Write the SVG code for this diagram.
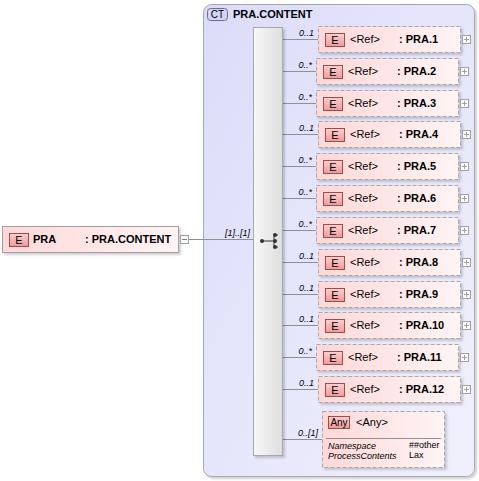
<svg xmlns="http://www.w3.org/2000/svg" width="479" height="481" viewBox="0 0 479 481">
<defs>
<linearGradient id="ctg" x1="0" y1="0" x2="1" y2="1"><stop offset="0" stop-color="#dcdcfa"/><stop offset="1" stop-color="#f0f0fc"/></linearGradient>
<linearGradient id="elg" x1="0" y1="0" x2="1" y2="0"><stop offset="0" stop-color="#ffd8d8"/><stop offset="1" stop-color="#fff4f4"/></linearGradient>
<linearGradient id="badg" x1="0" y1="0" x2="0" y2="1"><stop offset="0" stop-color="#fbd0d0"/><stop offset="1" stop-color="#ee9a9a"/></linearGradient>
<linearGradient id="seqg" x1="0" y1="0" x2="1" y2="0"><stop offset="0" stop-color="#f8f8f8"/><stop offset="1" stop-color="#dedede"/></linearGradient>
<filter id="sh" x="-10%" y="-10%" width="130%" height="140%"><feDropShadow dx="2" dy="2" stdDeviation="1.2" flood-color="#000" flood-opacity="0.18"/></filter>
</defs>
<style>
text{font-family:"Liberation Sans",Arial,sans-serif;fill:#000}
.b{font-size:11px;font-weight:bold}
.r{font-size:11px}
.card{font-size:9px;font-style:italic;text-anchor:end}
.it{font-size:9px;font-style:italic}
.sm{font-size:9px}
.box{fill:url(#elg);stroke:#a8a8a8;stroke-width:1;stroke-dasharray:4,2;filter:url(#sh)}
.badge{fill:url(#badg);stroke:#9c4c4c;stroke-width:1}
.pm{fill:#fff;stroke:#a0a0a0;stroke-width:1}
.ln{stroke:#909090;stroke-width:1;fill:none}
</style>

<g id="ct">
<rect x="203.5" y="4.5" width="271" height="472" rx="8" fill="url(#ctg)" stroke="#a8a8a8" filter="url(#sh)"/>
<rect x="207.5" y="8.5" width="20" height="12" rx="3" fill="#d4d4f4" stroke="#6c6c9c"/>
<text x="217.5" y="18" class="r" text-anchor="middle" style="font-size:10px">CT</text>
<text x="233" y="18" class="b">PRA.CONTENT</text>
</g>

<g id="connectors">
<line class="ln" x1="188" y1="239.5" x2="253" y2="239.5"/>
<text x="250" y="236" class="card">[1]..[1]</text>
<line class="ln" x1="282" y1="39.5" x2="318" y2="39.5"/>
<line class="ln" x1="282" y1="71.5" x2="316" y2="71.5"/>
<line class="ln" x1="282" y1="103.5" x2="316" y2="103.5"/>
<line class="ln" x1="282" y1="134.5" x2="318" y2="134.5"/>
<line class="ln" x1="282" y1="166.5" x2="316" y2="166.5"/>
<line class="ln" x1="282" y1="198.5" x2="316" y2="198.5"/>
<line class="ln" x1="282" y1="230.5" x2="316" y2="230.5"/>
<line class="ln" x1="282" y1="262.5" x2="318" y2="262.5"/>
<line class="ln" x1="282" y1="294.5" x2="318" y2="294.5"/>
<line class="ln" x1="282" y1="325.5" x2="318" y2="325.5"/>
<line class="ln" x1="282" y1="357.5" x2="316" y2="357.5"/>
<line class="ln" x1="282" y1="389.5" x2="318" y2="389.5"/>
<line class="ln" x1="282" y1="439.5" x2="322" y2="439.5"/>
<text x="314" y="36" class="card">0..1</text>
<text x="312" y="68" class="card">0..*</text>
<text x="312" y="100" class="card">0..*</text>
<text x="314" y="131" class="card">0..1</text>
<text x="312" y="163" class="card">0..*</text>
<text x="312" y="195" class="card">0..*</text>
<text x="312" y="227" class="card">0..*</text>
<text x="314" y="259" class="card">0..1</text>
<text x="314" y="291" class="card">0..1</text>
<text x="314" y="322" class="card">0..1</text>
<text x="312" y="354" class="card">0..*</text>
<text x="314" y="386" class="card">0..1</text>
<text x="318" y="436" class="card">0..[1]</text>
</g>

<g id="root">
<rect x="2.5" y="226.5" width="176" height="26" fill="url(#elg)" stroke="#a0a0a0" filter="url(#sh)"/>
<rect x="9.5" y="233.5" width="19" height="13" class="badge"/>
<text x="19" y="244" class="r" text-anchor="middle">E</text>
<text x="33" y="243" class="b">PRA</text>
<text x="85" y="243" class="b">: PRA.CONTENT</text>
<rect x="180.5" y="235.5" width="8" height="8" class="pm"/>
<line x1="182" y1="239.5" x2="187" y2="239.5" stroke="#808080"/>
</g>

<g id="sequence">
<rect x="253.5" y="27.5" width="29" height="428" fill="url(#seqg)" stroke="#a8a8a8" filter="url(#sh)"/>
<line x1="262" y1="241" x2="274" y2="241" stroke="#333"/>
<line x1="274" y1="235" x2="274" y2="247" stroke="#333"/>
<line x1="274" y1="235" x2="278" y2="235" stroke="#333"/>
<line x1="274" y1="247" x2="278" y2="247" stroke="#333"/>
<circle cx="262" cy="241" r="2" fill="#333"/>
<circle cx="275" cy="235" r="2" fill="#333"/>
<circle cx="275" cy="241" r="2" fill="#333"/>
<circle cx="275" cy="247" r="2" fill="#333"/>
</g>

<g id="e1">
<rect x="318.5" y="26.5" width="142" height="26" class="box"/>
<rect x="325.5" y="33.5" width="19" height="13" class="badge"/>
<text x="335" y="44" class="r" text-anchor="middle">E</text>
<text x="350" y="43" class="r">&lt;Ref&gt;</text>
<text x="399" y="43" class="b">: PRA.1</text>
<rect x="462.5" y="35.5" width="8" height="8" class="pm"/>
<path d="M464 39.5h5M466.5 37v5" stroke="#a0a0a0"/>
</g>
<g id="e2">
<rect x="316.5" y="58.5" width="142" height="26" class="box"/>
<rect x="323.5" y="65.5" width="19" height="13" class="badge"/>
<text x="333" y="76" class="r" text-anchor="middle">E</text>
<text x="348" y="75" class="r">&lt;Ref&gt;</text>
<text x="397" y="75" class="b">: PRA.2</text>
<rect x="460.5" y="67.5" width="8" height="8" class="pm"/>
<path d="M462 71.5h5M464.5 69v5" stroke="#a0a0a0"/>
</g>
<g id="e3">
<rect x="316.5" y="90.5" width="142" height="26" class="box"/>
<rect x="323.5" y="97.5" width="19" height="13" class="badge"/>
<text x="333" y="108" class="r" text-anchor="middle">E</text>
<text x="348" y="107" class="r">&lt;Ref&gt;</text>
<text x="397" y="107" class="b">: PRA.3</text>
<rect x="460.5" y="99.5" width="8" height="8" class="pm"/>
<path d="M462 103.5h5M464.5 101v5" stroke="#a0a0a0"/>
</g>
<g id="e4">
<rect x="318.5" y="121.5" width="142" height="26" class="box"/>
<rect x="325.5" y="128.5" width="19" height="13" class="badge"/>
<text x="335" y="139" class="r" text-anchor="middle">E</text>
<text x="350" y="138" class="r">&lt;Ref&gt;</text>
<text x="399" y="138" class="b">: PRA.4</text>
<rect x="462.5" y="130.5" width="8" height="8" class="pm"/>
<path d="M464 134.5h5M466.5 132v5" stroke="#a0a0a0"/>
</g>
<g id="e5">
<rect x="316.5" y="153.5" width="142" height="26" class="box"/>
<rect x="323.5" y="160.5" width="19" height="13" class="badge"/>
<text x="333" y="171" class="r" text-anchor="middle">E</text>
<text x="348" y="170" class="r">&lt;Ref&gt;</text>
<text x="397" y="170" class="b">: PRA.5</text>
<rect x="460.5" y="162.5" width="8" height="8" class="pm"/>
<path d="M462 166.5h5M464.5 164v5" stroke="#a0a0a0"/>
</g>
<g id="e6">
<rect x="316.5" y="185.5" width="142" height="26" class="box"/>
<rect x="323.5" y="192.5" width="19" height="13" class="badge"/>
<text x="333" y="203" class="r" text-anchor="middle">E</text>
<text x="348" y="202" class="r">&lt;Ref&gt;</text>
<text x="397" y="202" class="b">: PRA.6</text>
<rect x="460.5" y="194.5" width="8" height="8" class="pm"/>
<path d="M462 198.5h5M464.5 196v5" stroke="#a0a0a0"/>
</g>
<g id="e7">
<rect x="316.5" y="217.5" width="142" height="26" class="box"/>
<rect x="323.5" y="224.5" width="19" height="13" class="badge"/>
<text x="333" y="235" class="r" text-anchor="middle">E</text>
<text x="348" y="234" class="r">&lt;Ref&gt;</text>
<text x="397" y="234" class="b">: PRA.7</text>
<rect x="460.5" y="226.5" width="8" height="8" class="pm"/>
<path d="M462 230.5h5M464.5 228v5" stroke="#a0a0a0"/>
</g>
<g id="e8">
<rect x="318.5" y="249.5" width="142" height="26" class="box"/>
<rect x="325.5" y="256.5" width="19" height="13" class="badge"/>
<text x="335" y="267" class="r" text-anchor="middle">E</text>
<text x="350" y="266" class="r">&lt;Ref&gt;</text>
<text x="399" y="266" class="b">: PRA.8</text>
<rect x="462.5" y="258.5" width="8" height="8" class="pm"/>
<path d="M464 262.5h5M466.5 260v5" stroke="#a0a0a0"/>
</g>
<g id="e9">
<rect x="318.5" y="281.5" width="142" height="26" class="box"/>
<rect x="325.5" y="288.5" width="19" height="13" class="badge"/>
<text x="335" y="299" class="r" text-anchor="middle">E</text>
<text x="350" y="298" class="r">&lt;Ref&gt;</text>
<text x="399" y="298" class="b">: PRA.9</text>
<rect x="462.5" y="290.5" width="8" height="8" class="pm"/>
<path d="M464 294.5h5M466.5 292v5" stroke="#a0a0a0"/>
</g>
<g id="e10">
<rect x="318.5" y="312.5" width="142" height="26" class="box"/>
<rect x="325.5" y="319.5" width="19" height="13" class="badge"/>
<text x="335" y="330" class="r" text-anchor="middle">E</text>
<text x="350" y="329" class="r">&lt;Ref&gt;</text>
<text x="399" y="329" class="b">: PRA.10</text>
<rect x="462.5" y="321.5" width="8" height="8" class="pm"/>
<path d="M464 325.5h5M466.5 323v5" stroke="#a0a0a0"/>
</g>
<g id="e11">
<rect x="316.5" y="344.5" width="142" height="26" class="box"/>
<rect x="323.5" y="351.5" width="19" height="13" class="badge"/>
<text x="333" y="362" class="r" text-anchor="middle">E</text>
<text x="348" y="361" class="r">&lt;Ref&gt;</text>
<text x="397" y="361" class="b">: PRA.11</text>
<rect x="460.5" y="353.5" width="8" height="8" class="pm"/>
<path d="M462 357.5h5M464.5 355v5" stroke="#a0a0a0"/>
</g>
<g id="e12">
<rect x="318.5" y="376.5" width="142" height="26" class="box"/>
<rect x="325.5" y="383.5" width="19" height="13" class="badge"/>
<text x="335" y="394" class="r" text-anchor="middle">E</text>
<text x="350" y="393" class="r">&lt;Ref&gt;</text>
<text x="399" y="393" class="b">: PRA.12</text>
<rect x="462.5" y="385.5" width="8" height="8" class="pm"/>
<path d="M464 389.5h5M466.5 387v5" stroke="#a0a0a0"/>
</g>

<g id="any">
<rect x="322.5" y="411.5" width="122" height="56" class="box"/>
<rect x="328.5" y="416.5" width="21" height="12" class="badge"/>
<text x="339" y="426" class="r" text-anchor="middle" style="font-size:10px">Any</text>
<text x="356" y="426" class="r">&lt;Any&gt;</text>
<line x1="326" y1="438.5" x2="441" y2="438.5" stroke="#909090"/>
<text x="328" y="449" class="it">Namespace</text>
<text x="409" y="448" class="sm">##other</text>
<text x="328" y="459" class="it">ProcessContents</text>
<text x="409" y="458" class="sm">Lax</text>
</g>
</svg>
